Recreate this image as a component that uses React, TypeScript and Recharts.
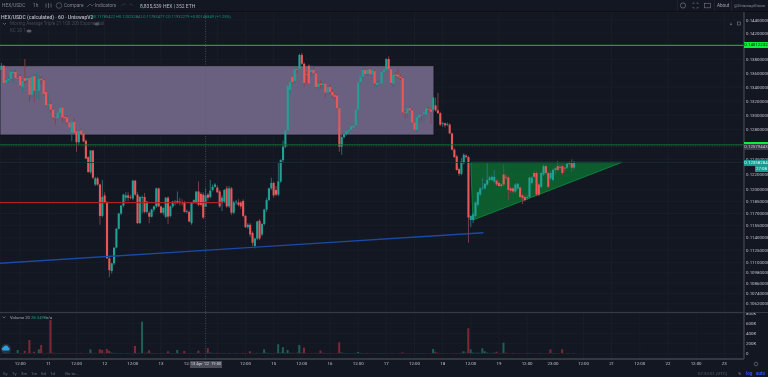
import React from "react";
import { ComposedChart, Bar, Area, Line, XAxis, YAxis, CartesianGrid, ReferenceLine, ReferenceArea, Cell } from "recharts";

type C = [number, number, number, number];
const apr10: C[] = [[.1365,.1375,.1363,.1371],[.1371,.1372,.1346,.1346],[.1346,.1352,.1345,.1350],[.1349,.1355,.1347,.1352],[.1352,.1365,.1350,.1362],[.1360,.1365,.1345,.1362],[.1362,.1366,.1352,.1353],[.1353,.1358,.1350,.1352],[.1356,.1358,.1340,.1342],[.1340,.1350,.1333,.1349],[.1353,.1381,.1345,.1349],[.1350,.1356,.1347,.1353],[.1353,.1355,.1319,.1329],[.1329,.1358,.1325,.1355],[.1356,.1358,.1318,.1335],[.1335,.1363,.1322,.1336],[.1335,.1358,.1322,.1352],[.1352,.1356,.1345,.1350],[.1350,.1352,.1328,.1330],[.1333,.1335,.1312,.1314]];
const apr11: C[] = [[.1314,.1330,.1308,.1315],[.1316,.1320,.1304,.1308],[.1308,.1310,.1294,.1297],[.1298,.1300,.1287,.1297],[.1296,.1304,.1294,.1304],[.1303,.1312,.1302,.1311],[.1311,.1312,.1290,.1297],[.1298,.1300,.1295,.1296],[.1297,.1300,.1288,.1290],[.1290,.1291,.1282,.1283],[.1276,.1291,.1264,.1291],[.1291,.1296,.1275,.1276],[.1278,.1280,.1250,.1263],[.1263,.1279,.1260,.1278],[.1279,.1282,.1272,.1274],[.1275,.1276,.1263,.1264],[.1265,.1267,.1241,.1241],[.1243,.1244,.1223,.1223],[.1223,.1252,.1221,.1252],[.1252,.1252,.1214,.1216],[.1207,.1217,.1205,.1215],[.1215,.1217,.1205,.1207],[.1207,.1208,.1156,.1167],[.1167,.1213,.1165,.1191]];
const apr12: C[] = [[.1193,.1197,.1183,.1184],[.1184,.1186,.1115,.1115],[.1115,.1117,.1093,.1101],[.1100,.1110,.1097,.1109],[.1109,.1128,.1107,.1128],[.1128,.1152,.1127,.1151],[.1151,.1171,.1150,.1170],[.1170,.1181,.1168,.1180],[.1180,.1195,.1178,.1194],[.1190,.1197,.1186,.1193],[.1193,.1197,.1186,.1190],[.1191,.1194,.1188,.1190],[.1189,.1213,.1187,.1212],[.1212,.1213,.1192,.1194],[.1194,.1197,.1157,.1158],[.1158,.1192,.1157,.1191],[.1190,.1193,.1170,.1191],[.1191,.1196,.1170,.1172],[.1172,.1186,.1170,.1185],[.1171,.1173,.1158,.1166],[.1166,.1176,.1165,.1175],[.1175,.1180,.1172,.1179],[.1179,.1203,.1177,.1202],[.1202,.1203,.1178,.1179]];
const apr13: C[] = [[.1179,.1180,.1170,.1171],[.1171,.1178,.1168,.1177],[.1166,.1191,.1164,.1190],[.1190,.1192,.1157,.1166],[.1167,.1180,.1165,.1179],[.1179,.1186,.1177,.1185],[.1184,.1187,.1180,.1185],[.1184,.1198,.1182,.1186],[.1185,.1190,.1180,.1184],[.1184,.1188,.1180,.1183],[.1184,.1186,.1171,.1172],[.1172,.1175,.1170,.1173],[.1172,.1174,.1160,.1160],[.1158,.1184,.1156,.1184],[.1184,.1188,.1182,.1187],[.1184,.1198,.1182,.1198],[.1198,.1211,.1179,.1181],[.1195,.1197,.1179,.1181],[.1194,.1197,.1163,.1165],[.11785,.1202,.1178,.1193],[.1194,.1196,.1186,.1190],[.1191,.1213,.1189,.1199],[.1200,.1207,.1198,.1204],[.1204,.1209,.1203,.1207]];
const apr14: C[] = [[.1203,.1206,.1196,.1197],[.1198,.1200,.1177,.1179],[.1185,.1193,.1173,.1190],[.1185,.1201,.1183,.1200],[.1202,.1205,.1177,.1179],[.1179,.1205,.1177,.1202],[.1202,.1204,.1168,.1171],[.1171,.1186,.1169,.1184],[.1184,.1187,.1181,.1185],[.1184,.1188,.1179,.1181],[.1184,.1186,.1176,.1179],[.1186,.1188,.1165,.1167],[.1167,.1168,.1152,.1153],[.1153,.1158,.1151,.1156],[.1156,.1158,.1141,.1144],[.1146,.1148,.1130,.1134],[.1130,.1140,.1127,.1139],[.1139,.1161,.1137,.1160],[.1161,.1163,.1137,.1139],[.1144,.1158,.1142,.1157],[.1157,.1176,.1155,.1175],[.1175,.1190,.1172,.1187],[.1187,.1203,.1186,.1202],[.1202,.1216,.1200,.1209]];
const apr15: C[] = [[.1209,.1211,.1190,.1193],[.1200,.1205,.1192,.1194],[.1194,.1235,.1192,.1211],[.1211,.1240,.1209,.1239],[.1239,.1265,.1235,.1257],[.1257,.1280,.1255,.1279],[.1279,.1342,.1278,.1342],[.1336,.1347,.1330,.1347],[.1355,.1356,.1345,.1347],[.1349,.1368,.1345,.1366],[.1366,.1368,.1360,.1365],[.1366,.1389,.1365,.1387],[.1387,.1390,.1372,.1374],[.1374,.1376,.1340,.1346],[.1359,.1362,.1345,.1358],[.1371,.1373,.1343,.1345],[.1362,.1371,.1355,.1365],[.1365,.1371,.1358,.1360],[.1360,.1362,.1338,.1340],[.1340,.1349,.1335,.1345],[.1345,.1350,.1338,.1343],[.1343,.1348,.1338,.1345],[.1345,.1347,.1325,.1332],[.1332,.1342,.1330,.1340]];
const apr16: C[] = [[.1340,.1344,.1330,.1333],[.1333,.1336,.1325,.1328],[.1329,.1331,.1322,.1326],[.1328,.1330,.1308,.1310],[.1310,.1311,.1250,.1257],[.1257,.1275,.1246,.1270],[.1270,.1276,.1268,.1274],[.1274,.1279,.1272,.1278],[.1278,.1281,.1276,.1280],[.1280,.1286,.1278,.1285],[.1283,.1288,.1281,.1286],[.1286,.1309,.1285,.1308],[.1308,.1347,.1307,.1347],[.1347,.1356,.1345,.1355],[.1355,.1368,.1352,.1365],[.1365,.1368,.1358,.1359],[.1359,.1367,.1356,.1365],[.1366,.1368,.1358,.1359],[.1358,.1367,.1355,.1365],[.1363,.1366,.1342,.1345],[.1343,.1348,.1340,.1346],[.1345,.1350,.1342,.1346],[.1345,.1363,.1343,.1362],[.1362,.1367,.1360,.1365]];
const apr17: C[] = [[.1365,.1382,.1363,.1381],[.1381,.1385,.1365,.1366],[.1366,.1368,.1344,.1346],[.1345,.1359,.1340,.1358],[.1358,.1362,.1354,.1356],[.1358,.1368,.1352,.1355],[.1355,.1358,.1350,.1353],[.1353,.1355,.1302,.1304],[.1304,.1307,.1295,.1303],[.1303,.1311,.1296,.1310],[.1310,.1312,.1305,.1307],[.1307,.1309,.1289,.1290],[.1290,.1291,.1280,.1280],[.1280,.1299,.1278,.1298],[.1297,.1303,.1288,.1301],[.1301,.1303,.1292,.1300],[.1302,.1306,.1290,.1304],[.1301,.1311,.1299,.1310],[.1309,.1312,.1303,.1308],[.1308,.1310,.1288,.1305],[.1308,.1325,.1305,.1325],[.1314,.1325,.1305,.1307],[.1307,.1332,.1302,.1303],[.1303,.1305,.1285,.1287]];
const apr18: C[] = [[.1288,.1291,.1284,.1289],[.1289,.1290,.1283,.1286],[.1287,.1290,.1285,.1288],[.1287,.1289,.1274,.1275],[.1275,.1276,.1252,.1253],[.1253,.1255,.1242,.1243],[.1244,.1246,.1225,.1226],[.1227,.1229,.1218,.1221],[.1221,.1242,.1219,.1237],[.1235,.1248,.1233,.1246],[.1245,.1247,.1241,.1243],[.1243,.1245,.1134,.1165],[.1162,.1168,.1153,.1167],[.1162,.1172,.1158,.1169],[.1167,.1185,.1165,.1184],[.1181,.1198,.1179,.1197],[.1194,.1203,.1192,.1202],[.1202,.1215,.1200,.1203],[.1202,.1209,.1200,.1208],[.1207,.1235,.1205,.1213],[.1213,.1218,.1211,.1216],[.1213,.1219,.1211,.1217],[.1211,.1226,.1209,.1217],[.1212,.1214,.1205,.1207]];
const apr19: C[] = [[.1209,.1212,.1204,.1205],[.1207,.1209,.1203,.1205],[.1220,.1233,.1205,.1207],[.1217,.1221,.1213,.1216],[.1216,.1218,.1187,.1200],[.1202,.1204,.1196,.1199],[.1202,.1204,.1196,.1198],[.1198,.1209,.1196,.1207],[.1202,.1209,.1200,.1208],[.1203,.1205,.1189,.1191],[.1193,.1195,.1182,.1190],[.1191,.1193,.1185,.1187],[.1190,.1194,.1187,.1191],[.1191,.1217,.1189,.1216],[.1209,.1218,.1207,.1216],[.1222,.1225,.1215,.1217],[.1222,.1224,.1192,.1194],[.1207,.1209,.1192,.1194],[.1204,.1224,.1202,.1222],[.1220,.1233,.1218,.1231],[.1231,.1233,.1219,.1222],[.1222,.1224,.1202,.1204],[.1215,.1224,.1213,.1222],[.1213,.1228,.1211,.1226]];
const apr20: C[] = [[.1226,.1229,.1220,.1228],[.1231,.1238,.1224,.1226],[.1230,.1233,.1226,.1229],[.1231,.1233,.1219,.1222],[.1229,.1230,.1224,.1228],[.1229,.1236,.1227,.1234],[.1234,.1237,.1232,.1235],[.1235,.1240,.1223,.1229],[.1229,.1238,.1227,.12358]];

const volApr10 = [4,6,3,5,8,4,5,67,6,4,50,5,267,8,30,6,80,167,6,5];
const volApr11 = [8,667,12,9,6,7,5,4,6,8,5,4,7,6,9,5,4,6,80,7,5,4,80,67];
const volApr12 = [10,87,50,15,8,6,5,7,4,6,5,4,6,147,8,5,633,9,12,60,8,7,5,6];
const volApr13 = [5,7,4,40,8,6,5,67,7,5,47,6,5,8,6,4,53,7,5,8,100,12,9,7];
const volApr14 = [10,8,6,7,5,9,6,5,7,8,6,9,7,5,40,8,6,9,7,5,80,12,8,6];
const volApr15 = [7,9,180,15,120,12,67,10,9,8,12,167,14,113,8,6,5,7,9,6,53,10,7,6];
const volApr16 = [8,6,5,7,220,14,8,6,5,4,7,6,27,9,5,6,7,4,5,6,4,5,6,7];
const volApr17 = [5,4,6,5,3,4,6,20,5,4,6,3,5,7,4,6,5,4,3,5,87,33,10,7];
const volApr18 = [6,4,5,3,4,6,5,7,9,40,12,500,80,15,10,12,9,100,40,14,10,8,12,33];
const volApr19 = [7,6,213,12,8,6,9,5,7,6,5,4,7,9,5,6,4,5,7,4,5,6,80,7];
const volApr20 = [5,6,4,80,5,6,4,5,7];
const volumeColourFlips = [7, 43, 214, 234];

const firstHour = -92;
const candles = [...apr10, ...apr11, ...apr12, ...apr13, ...apr14, ...apr15, ...apr16, ...apr17, ...apr18, ...apr19, ...apr20];
const volumes = [...volApr10, ...volApr11, ...volApr12, ...volApr13, ...volApr14, ...volApr15, ...volApr16, ...volApr17, ...volApr18, ...volApr19, ...volApr20];

const rows = candles.map(([o, h, l, c], i) => {
  const up = c >= o;
  return { t: firstHour + i, o, h, l, c, wick: [l, h], up, vol: volumes[i] ?? 0, volUp: volumeColourFlips.includes(i) ? !up : up };
});

const priceTicks = [0.144,0.142,0.138,0.136,0.134,0.132,0.13,0.128,0.124,0.122,0.12,0.1185,0.117,0.1155,0.114,0.1125,0.111,0.1098,0.1086,0.1074,0.1062];
const volumeTicks = [0, 200, 400, 600, 800];
const timeHours = [-84,-72,-60,-48,-36,-24,-12,0,12,24,36,48,60,72,84,96,108,120,132,143,156,168,180,192,204,216];
const timeLabels = ["12:00","11","12:00","12","12:00","13","12:00","","12:00","15","12:00","16","12:00","17","12:00","18","12:00","19","12:00","23:00","12:00","21","12:00","22","12:00","23"];
const triangleRows = [{ t: 108, band: [0.12361, 0.12361] }, { t: 108.9, band: [0.11619, 0.12361] }, { t: 172.4, band: [0.12361, 0.12361] }];
const trendRows = [{ t: -92.6, v: 0.11092 }, { t: 113.4, v: 0.11461 }];
const levelRows = [{ t: -92.6, v: 0.11837 }, { t: 2.5, v: 0.11837 }];

const xDomain: [number, number] = [-92.6, 224.4];
const BG = "#131722";
const GRID = "#1a1f2d";
const UP = "#1fa294";
const DOWN = "#e8585a";
const FONT = "Roboto, 'Liberation Sans', sans-serif";

function Candle(p: any) {
  const { x, y, width, height, payload } = p;
  const { o, h, l, c, up } = payload;
  const at = (v: number) => y + (height * Math.log(h / v)) / Math.log(h / l);
  const top = Math.min(at(o), at(c));
  const bh = Math.max(Math.abs(at(o) - at(c)), 0.8);
  const cx = x + width / 2;
  const bw = 2.1;
  return (
    <g>
      <line x1={cx} x2={cx} y1={y} y2={y + height} stroke={up ? "#2a7478" : "#8a3f4a"} strokeWidth={0.9} />
      <rect x={cx - bw / 2} y={top} width={bw} height={bh} fill={up ? UP : DOWN} />
    </g>
  );
}

const T = ({ x, y, c = "#8a8d97", s = 4.8, w = 400, children, right }: any) => (
  <div style={{ position: "absolute", left: right === undefined ? x : undefined, right, top: y, fontSize: s, lineHeight: `${s + 1}px`, color: c, fontWeight: w, whiteSpace: "nowrap", fontFamily: FONT, zIndex: 5 }}>{children}</div>
);
const Box = ({ x, y, w, h, bg, children, c = "#0d0f14", s = 4.4 }: any) => (
  <div style={{ position: "absolute", left: x, top: y, width: w, height: h, background: bg, color: c, fontSize: s, lineHeight: `${h}px`, textAlign: "center", fontFamily: FONT, whiteSpace: "nowrap", zIndex: 6 }}>{children}</div>
);

export default function App() {
  return (
    <div style={{ position: "fixed", left: 0, top: 0, width: 768, height: 377, background: BG, overflow: "hidden", filter: "blur(0.28px)" }}>
      {/* top toolbar */}
      <div style={{ position: "absolute", left: 0, top: 11, width: 768, height: 1, background: "#0c0e14" }} />
      <T x={2} y={2.5} c="#7f828c">HEX/USDC</T>
      <T x={33} y={2.5} c="#7f828c">1h</T>
      <T x={64} y={2.5} c="#7f828c">Compare</T>
      <T x={95} y={2.5} c="#7f828c">Indicators</T>
      <T x={140} y={2.5} c="#b5b8c0" s={5}>8,835,539 HEX | 352 ETH</T>
      <svg style={{ position: "absolute", left: 0, top: 0, zIndex: 5 }} width={768} height={40}>
        <circle cx={59} cy={5.5} r={2.8} fill="none" stroke="#6a6d77" strokeWidth={0.6} />
        <path d="M46 3.5v4M48.5 3v5M51 3.5v4" stroke="#6a6d77" strokeWidth={0.8} />
        <path d="M87 7l3-3 2 2 2-2" fill="none" stroke="#6a6d77" strokeWidth={0.6} />
        <path d="M121 6l2-2h3M133 6l-2-2h-2" fill="none" stroke="#3f424c" strokeWidth={0.6} />
        <circle cx={683} cy={5.5} r={2.6} fill="none" stroke="#6a6d77" strokeWidth={0.8} />
        <path d="M693 4V3h1.5M698 4V3h-1.5M693 7v1h1.5M698 7v1h-1.5" fill="none" stroke="#7a7d87" strokeWidth={0.6} />
        <rect x={704.5} y={3.3} width={6} height={4.5} fill="none" stroke="#6a6d77" strokeWidth={0.7} />
        <path d="M731 22.5v2.5M730 24l1 1.2 1-1.2" stroke="#8a8d97" strokeWidth={0.5} fill="none" />
        <rect x={737.5} y={22} width={3} height={3} fill="none" stroke="#8a8d97" strokeWidth={0.5} />
        <path d="M3 23l1.5 1.5L6 23" stroke="#8a8d97" strokeWidth={0.6} fill="none" />
        <ellipse cx={97} cy={24} rx={2.6} ry={1.6} fill="#5a5d66" />
        <ellipse cx={29} cy={31} rx={2.6} ry={1.6} fill="#5a5d66" />
      </svg>
      <T x={717} y={2.5} c="#a5a8b0" s={4.6}>About</T>
      <T x={734} y={2.5} c="#8a8d97" s={4.2}>@UniswapVision</T>
      <div style={{ position: "absolute", left: 677, top: 0, width: 1, height: 11, background: "#1e222d" }} />
      <div style={{ position: "absolute", left: 714, top: 0, width: 1, height: 11, background: "#1e222d" }} />
      <div style={{ position: "absolute", left: 731, top: 0, width: 1, height: 11, background: "#1e222d" }} />

      {/* legend */}
      <T x={1} y={13.5} c="#b9bcc4" s={5.1} w={500}>HEX/USDC (calculated) · 60 · UniswapV2</T>
      <T x={91} y={14} c="#159182" s={4}>O0.11785422 H0.12023284 L0.11783477 C0.11932279 +0.00146849 (+1.25%)</T>
      <T x={10} y={21} c="#454853" s={4.6}>Moving Average Triple 21 100 200 Exponential</T>
      <T x={10} y={28} c="#454853" s={4.6}>KC 20 1</T>

      {/* price pane */}
      <div style={{ position: "absolute", left: 0, top: 12 }}>
        <ComposedChart width={768} height={300} data={rows} margin={{ top: 0, right: 0, bottom: 0, left: 0 }} barSize={2}>
          <CartesianGrid stroke={GRID} strokeWidth={0.7} />
          <XAxis dataKey="t" type="number" domain={xDomain} ticks={timeHours} allowDataOverflow hide />
          <YAxis yAxisId={0} orientation="right" width={24} type="number" scale="log" domain={[0.10527, 0.14524]} ticks={priceTicks} interval={0} allowDataOverflow
            tick={{ fontSize: 4.4, fill: "#c0c3ca", fontFamily: FONT }} tickSize={0} tickMargin={2} tickFormatter={(v: number) => v.toFixed(8)} axisLine={{ stroke: "#3d404a", strokeWidth: 1.4 }} />
          <ReferenceLine y={0.14012} stroke="#0ea82f" strokeWidth={1.2} />
          <ReferenceLine y={0.12596} stroke="#11702c" strokeWidth={0.9} />
          <ReferenceLine y={0.12579} stroke="#5d606a" strokeWidth={0.6} strokeDasharray="1 1.4" />
          <ReferenceLine y={0.12358} stroke="#172f38" strokeWidth={0.8} />
          <ReferenceLine x={-5} stroke="#5b5e68" strokeWidth={0.7} strokeDasharray="1 1.5" />
          <ReferenceArea x1={-92.6} x2={92.3} y1={0.12728} y2={0.13711} fill="#6a6180" fillOpacity={1} stroke="#0e1017" strokeWidth={0.8} />
          <Area data={triangleRows} dataKey="band" type="linear" fill="#0a7a33" fillOpacity={0.7} stroke="#0a8a3a" strokeWidth={0.9} isAnimationActive={false} dot={false} activeDot={false} />
          <Line data={levelRows} dataKey="v" type="linear" stroke="#b01f28" strokeWidth={1.3} dot={false} activeDot={false} isAnimationActive={false} />
          <Bar dataKey="wick" shape={Candle} isAnimationActive={false} />
          <Line data={trendRows} dataKey="v" type="linear" stroke="#1a4aa6" strokeWidth={1.4} dot={false} activeDot={false} isAnimationActive={false} />
        </ComposedChart>
      </div>

      {/* pane separator */}
      <div style={{ position: "absolute", left: 0, top: 312, width: 768, height: 1, background: "#363a45", zIndex: 3 }} />

      {/* volume pane */}
      <div style={{ position: "absolute", left: 0, top: 308 }}>
        <ComposedChart width={768} height={69} data={rows} margin={{ top: 5, right: 0, bottom: 0, left: 0 }} barSize={2}>
          <CartesianGrid stroke={GRID} strokeWidth={0.7} />
          <XAxis dataKey="t" type="number" domain={xDomain} ticks={timeHours} interval={0} allowDataOverflow height={18}
            tick={{ fontSize: 4.4, fill: "#c0c3ca", fontFamily: FONT }} tickSize={0} tickMargin={3} axisLine={{ stroke: "#55585f", strokeWidth: 1 }}
            tickFormatter={(v: number) => timeLabels[timeHours.indexOf(v)] ?? ""} />
          <YAxis orientation="right" width={24} type="number" domain={[-114, 806]} ticks={volumeTicks} interval={0} allowDataOverflow
            tick={{ fontSize: 4.4, fill: "#c0c3ca", fontFamily: FONT }} tickSize={0} tickMargin={2} tickFormatter={(v: number) => (v ? `${v}K` : "0")} axisLine={{ stroke: "#3d404a", strokeWidth: 1.4 }} />
          <ReferenceLine x={-5} stroke="#5b5e68" strokeWidth={0.7} strokeDasharray="1 1.5" />
          <Bar dataKey="vol" isAnimationActive={false}>
            {rows.map((r) => (
              <Cell key={r.t} fill={r.volUp ? "#1f5f58" : "#7d2a36"} />
            ))}
          </Bar>
        </ComposedChart>
      </div>

      {/* volume legend */}
      <svg style={{ position: "absolute", left: 0, top: 314, zIndex: 5 }} width={60} height={42}>
        <path d="M2.5 2.5l1.5 1.5 1.5-1.5" stroke="#8a8d97" strokeWidth={0.6} fill="none" />
        <circle cx={6} cy={35} r={5} fill="#2a3140" />
        <path d="M2.8 36.5a1.7 1.7 0 0 1 0.6-3.2 2.6 2.6 0 0 1 5 0.3 1.5 1.5 0 0 1 0 2.9z" fill="#29a3e0" />
      </svg>
      <T x={10} y={314.5} c="#a5a8b0" s={4.2}>Volume 20</T>
      <T x={31} y={314.5} c="#21987f" s={4.2}>28.349K</T>
      <T x={46} y={314.5} c="#a5a8b0" s={4.2}>n/a</T>

      {/* axis price labels */}
      <Box x={744} y={42} w={24} h={6} bg="#0bf03a">0.14012232</Box>
      <Box x={744} y={141.5} w={24} h={2.6} bg="#0bf03a" />
      <Box x={744} y={144} w={24} h={5.5} bg="#3b3e48" c="#c5c7cd">0.12579443</Box>
      <Box x={744} y={160} w={24} h={6} bg="#19998f" c="#dff">0.12358284</Box>
      <Box x={755} y={166} w={13} h={5.5} bg="#19998f" c="#dff">27:08</Box>

      {/* crosshair date */}
      <Box x={190} y={361} w={32} h={6.5} bg="#4a4d58" c="#d5d7dc" s={4.1}>13 Apr '22&nbsp;&nbsp;19:00</Box>
      <svg style={{ position: "absolute", left: 750, top: 360, zIndex: 5 }} width={12} height={9}>
        <circle cx={6} cy={4} r={1.8} fill="none" stroke="#7a7d87" strokeWidth={0.6} />
      </svg>

      {/* bottom toolbar */}
      {["5y","1y","3m","1m","5d","1d"].map((r, i) => (
        <T key={r} x={[3,12,21,31,41,50][i]} y={371} c="#6a6d77" s={4.4}>{r}</T>
      ))}
      <T x={65} y={371} c="#6a6d77" s={4.4}>Go to...</T>
      <T x={698} y={371} c="#5e616b" s={4.4}>07:32:51 (UTC)</T>
      <T x={738} y={371} c="#7a7d87" s={4.4}>%</T>
      <T x={746} y={371} c="#2962ff" s={4.6} w={500}>log</T>
      <T x={756} y={371} c="#2962ff" s={4.6} w={500}>auto</T>
    </div>
  );
}
